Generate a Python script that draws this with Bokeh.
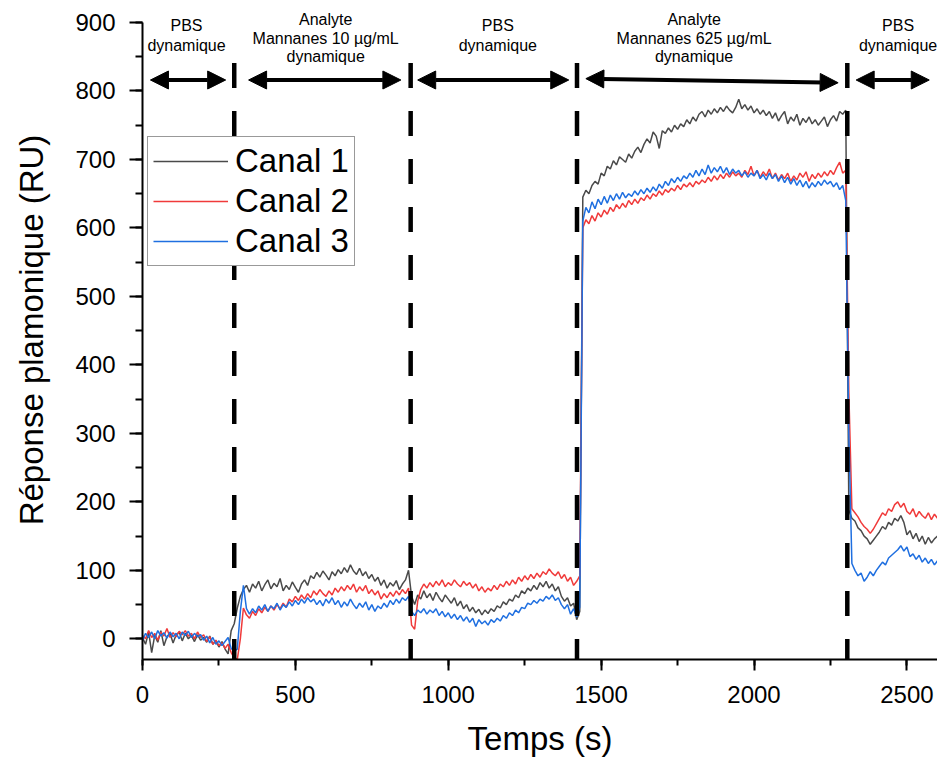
from bokeh.plotting import figure
from bokeh.models import (Label, Arrow, NormalHead, Legend, LegendItem,
                          SingleIntervalTicker, Range1d, ColumnDataSource)
from bokeh.embed import file_html
from bokeh.resources import INLINE

FONT = "Liberation Sans"

# sampling times (s)
t_s = [
    0, 10, 20, 30, 40, 50, 60, 70, 80, 90,
    100, 110, 120, 130, 140, 150, 160, 170, 180, 190,
    200, 210, 220, 230, 240, 250, 260, 270, 280, 290,
    300, 310, 320, 330, 340, 350, 360, 370, 380, 390,
    400, 410, 420, 430, 440, 450, 460, 470, 480, 490,
    500, 510, 520, 530, 540, 550, 560, 570, 580, 590,
    600, 610, 620, 630, 640, 650, 660, 670, 680, 690,
    700, 710, 720, 730, 740, 750, 760, 770, 780, 790,
    800, 810, 820, 830, 840, 850, 860, 870, 880, 890,
    900, 910, 920, 930, 940, 950, 960, 970, 980, 990,
    1000, 1010, 1020, 1030, 1040, 1050, 1060, 1070, 1080, 1090,
    1100, 1110, 1120, 1130, 1140, 1150, 1160, 1170, 1180, 1190,
    1200, 1210, 1220, 1230, 1240, 1250, 1260, 1270, 1280, 1290,
    1300, 1310, 1320, 1330, 1340, 1350, 1360, 1370, 1380, 1390,
    1400, 1410, 1420, 1430, 1440, 1450, 1460, 1470, 1480, 1490,
    1500, 1510, 1520, 1530, 1540, 1550, 1560, 1570, 1580, 1590,
    1600, 1610, 1620, 1630, 1640, 1650, 1660, 1670, 1680, 1690,
    1700, 1710, 1720, 1730, 1740, 1750, 1760, 1770, 1780, 1790,
    1800, 1810, 1820, 1830, 1840, 1850, 1860, 1870, 1880, 1890,
    1900, 1910, 1920, 1930, 1940, 1950, 1960, 1970, 1980, 1990,
    2000, 2010, 2020, 2030, 2040, 2050, 2060, 2070, 2080, 2090,
    2100, 2110, 2120, 2130, 2140, 2150, 2160, 2170, 2180, 2190,
    2200, 2210, 2220, 2230, 2240, 2250, 2260, 2270, 2280, 2290,
    2300, 2310, 2320, 2330, 2340, 2350, 2360, 2370, 2380, 2390,
    2400, 2410, 2420, 2430, 2440, 2450, 2460, 2470, 2480, 2490,
    2500, 2510, 2520, 2530, 2540, 2550, 2560, 2570, 2580, 2590,
    2600]

canal_1 = [
    2, -8, 10, -20, 5, -5, 12, -10, 3, 8,
    -6, 6, 10, -3, 8, 0, 5, -4, 6, -2,
    2, -5, 4, -8, -3, -12, -4, -15, -22, 12,
    22, 45, 62, 72, 78, 68, 80, 74, 84, 70,
    79, 86, 73, 81, 76, 88, 70, 78, 72, 83,
    75, 68, 80, 86, 78, 92, 88, 97, 90, 99,
    93, 86, 98, 92, 101, 95, 104, 97, 108, 99,
    94, 103, 92, 98, 88, 94, 84, 90, 78, 86,
    74, 82, 77, 85, 72, 80, 86, 100, 62, 50,
    64, 58, 70, 60, 66, 56, 68, 60, 54, 64,
    58, 52, 60, 48, 55, 44, 50, 40, 46, 38,
    43, 35, 42, 37, 44, 40, 48, 45, 54, 50,
    58, 55, 64, 60, 70, 66, 74, 70, 78, 72,
    82, 76, 84, 74, 80, 70, 76, 62, 55, 60,
    48, 52, 28, 40, 645, 655, 650, 662, 668, 664,
    680, 676, 690, 686, 698, 692, 704, 700, 696, 708,
    702, 712, 718, 710, 722, 730, 724, 740, 734, 716,
    742, 738, 746, 740, 750, 744, 752, 748, 758, 752,
    762, 756, 766, 770, 762, 772, 766, 774, 768, 776,
    770, 778, 772, 768, 776, 788, 774, 780, 772, 778,
    768, 774, 766, 772, 764, 770, 760, 768, 756, 764,
    770, 752, 762, 756, 766, 750, 760, 754, 762, 752,
    758, 750, 756, 762, 748, 758, 764, 756, 770, 766,
    772, 188, 176, 172, 162, 158, 150, 146, 138, 144,
    150, 156, 164, 160, 170, 166, 176, 172, 180, 170,
    152, 158, 146, 154, 142, 150, 138, 148, 140, 146,
    150]

canal_2 = [
    5, 0, 12, 2, 8, -2, 10, 4, 15, 2,
    9, 3, 11, 6, 12, 4, 8, 0, 10, 2,
    6, -4, 3, -8, -2, -10, -6, -14, -8, -20,
    -28, -30, 0, 45, 35, 30, 40, 34, 44, 38,
    46, 40, 48, 42, 50, 44, 52, 46, 58, 54,
    62, 56, 64, 58, 66, 60, 70, 64, 72, 66,
    62, 70, 64, 74, 68, 76, 70, 78, 72, 80,
    68, 76, 70, 78, 66, 72, 64, 70, 58, 66,
    60, 68, 62, 70, 64, 72, 66, 74, 20, 14,
    55, 72, 80, 74, 82, 76, 84, 78, 86, 76,
    82, 78, 86, 80, 76, 84, 78, 82, 74, 80,
    70, 76, 68, 74, 70, 78, 72, 80, 76, 84,
    78, 86, 80, 90, 84, 92, 86, 94, 88, 96,
    90, 98, 94, 102, 96, 92, 98, 88, 94, 84,
    90, 78, 84, 92, 600, 612, 606, 618, 610, 622,
    616, 626, 620, 630, 624, 634, 628, 636, 630, 640,
    634, 642, 636, 644, 640, 648, 642, 650, 646, 654,
    648, 656, 652, 658, 654, 662, 656, 664, 660, 666,
    660, 668, 664, 670, 666, 674, 668, 676, 670, 678,
    672, 680, 674, 682, 676, 680, 674, 684, 678, 690,
    676, 684, 674, 682, 676, 686, 672, 680, 670, 678,
    672, 680, 668, 676, 670, 680, 674, 682, 668, 678,
    672, 680, 674, 682, 676, 684, 678, 688, 696, 680,
    684, 360, 190, 184, 178, 170, 164, 160, 154, 160,
    168, 176, 184, 180, 190, 186, 196, 200, 192, 198,
    186, 182, 190, 178, 186, 180, 176, 184, 174, 182,
    176]

canal_3 = [
    -2, 8, 2, 10, 0, 12, 4, 9, 1, 10,
    3, 8, 0, 10, 5, 11, 2, 8, 3, 6,
    -2, 4, -6, 2, -8, -3, -10, -4, 2, -14,
    -18, -15, 40, 78, 44, 36, 44, 38, 48, 42,
    50, 40, 48, 44, 52, 42, 50, 46, 54, 48,
    56, 50, 58, 52, 60, 54, 58, 50, 56, 48,
    58, 52, 60, 50, 56, 46, 54, 48, 58, 50,
    44, 52, 46, 54, 42, 50, 40, 48, 44, 52,
    46, 56, 50, 58, 52, 60, 56, 62, 40, 34,
    42, 38, 44, 36, 42, 38, 44, 34, 40, 32,
    38, 30, 36, 28, 34, 26, 32, 24, 30, 18,
    28, 22, 26, 20, 28, 24, 30, 26, 34, 30,
    38, 34, 42, 38, 46, 44, 52, 50, 56, 52,
    58, 55, 62, 58, 64, 56, 60, 50, 44, 50,
    36, 44, 32, 46, 610, 630, 622, 638, 628, 642,
    634, 646, 636, 648, 640, 650, 642, 652, 644, 650,
    646, 654, 648, 656, 650, 658, 652, 660, 654, 664,
    658, 668, 662, 672, 666, 674, 668, 676, 672, 680,
    674, 684, 676, 686, 678, 692, 680, 688, 682, 690,
    680, 688, 678, 686, 680, 684, 676, 682, 674, 680,
    676, 684, 672, 678, 670, 680, 672, 678, 668, 676,
    666, 674, 664, 672, 662, 670, 660, 668, 658, 666,
    660, 668, 662, 670, 664, 668, 660, 666, 656, 662,
    640, 300, 110, 100, 92, 96, 84, 90, 98, 92,
    100, 106, 112, 108, 118, 122, 126, 130, 136, 128,
    134, 120, 124, 116, 122, 112, 118, 110, 116, 108,
    114]

series_names = ["Canal 1", "Canal 2", "Canal 3"]
series_colors = ["#4a4a4a", "#f03a3a", "#1f6fe0"]

# axis extents
x_lo, x_hi = 0, 2600
y_lo, y_hi = -30.2, 900
y_pad_top = 932.1  # room above the axis for the phase captions

# phase boundaries (s) and annotations
boundary_t = [300, 877, 1421, 2305]
boundary_top = 841
arrow_x0 = [26, 347, 900, 1450, 2334]
arrow_x1 = [272, 845, 1394, 2275, 2573]
arrow_y0 = [816, 816, 816, 818, 816]
arrow_y1 = [816, 816, 816, 812, 816]
phase_x = [144, 599, 1162, 1804, 2471]
phase_text = [
    ["PBS", "dynamique"],
    ["Analyte", "Mannanes 10 \u00b5g/mL", "dynamique"],
    ["PBS", "dynamique"],
    ["Analyte", "Mannanes 625 \u00b5g/mL", "dynamique"],
    ["PBS", "dynamique"],
]
line_y_2 = [895, 866]
line_y_3 = [905, 877, 851]

p = figure(width=937, height=760, output_backend="svg", toolbar_location=None,
           x_range=Range1d(x_lo, x_hi), y_range=Range1d(y_lo, y_pad_top),
           min_border_left=142, min_border_right=0, min_border_top=0,
           min_border_bottom=101)
p.outline_line_color = None
p.grid.visible = False

src = ColumnDataSource(dict(t=t_s, c1=canal_1, c2=canal_2, c3=canal_3))
renderers = []
for col, color in zip(["c1", "c2", "c3"], series_colors):
    r = p.line("t", col, source=src, line_color=color, line_width=1.5)
    renderers.append(r)

# dashed boundaries
p.segment(x0=boundary_t, x1=boundary_t, y0=[boundary_top] * 4, y1=[y_lo] * 4,
          line_color="black", line_width=4.5, line_dash="25 23")

for xs, xe, ys, ye in zip(arrow_x0, arrow_x1, arrow_y0, arrow_y1):
    p.add_layout(Arrow(
        start=NormalHead(size=18, fill_color="black", line_color="black"),
        end=NormalHead(size=18, fill_color="black", line_color="black"),
        x_start=xs, x_end=xe, y_start=ys, y_end=ye,
        line_width=4, line_color="black"))

for xc, lines in zip(phase_x, phase_text):
    ys = line_y_2 if len(lines) == 2 else line_y_3
    for txt, yy in zip(lines, ys):
        p.add_layout(Label(x=xc, y=yy, text=txt, text_align="center",
                           text_baseline="middle", text_font=FONT,
                           text_font_size="16px", text_color="black"))

legend = Legend(items=[LegendItem(label=n, renderers=[r])
                       for n, r in zip(series_names, renderers)],
                location=(5, 393))
legend.label_text_font = FONT
legend.label_text_font_size = "33px"
legend.label_text_color = "black"
legend.glyph_width = 75
legend.glyph_height = 36
legend.label_height = 36
legend.label_standoff = 7
legend.spacing = 2
legend.padding = 5
legend.margin = 0
legend.border_line_color = "#333333"
legend.border_line_width = 1
legend.background_fill_alpha = 1
p.add_layout(legend)

p.xaxis.ticker = SingleIntervalTicker(interval=500, num_minor_ticks=2)
p.yaxis.ticker = SingleIntervalTicker(interval=100, num_minor_ticks=2)
p.yaxis.bounds = (y_lo, y_hi)
for ax in (p.xaxis, p.yaxis):
    ax.axis_line_width = 2
    ax.axis_line_color = "black"
    ax.major_tick_line_width = 2
    ax.minor_tick_line_width = 2
    ax.major_tick_in = 0
    ax.minor_tick_in = 0
    ax.major_label_text_font = FONT
    ax.major_label_text_font_size = "24px"
    ax.major_label_text_color = "black"
    ax.axis_label_text_font = FONT
    ax.axis_label_text_font_size = "33px"
    ax.axis_label_text_font_style = "normal"
    ax.axis_label_text_color = "black"
p.xaxis.major_tick_out = 11
p.xaxis.minor_tick_out = 6
p.yaxis.major_tick_out = 13
p.yaxis.minor_tick_out = 7
p.xaxis.major_label_standoff = 15
p.yaxis.major_label_standoff = 14
p.xaxis.axis_label = "Temps (s)"
p.yaxis.axis_label = "R\u00e9ponse plamonique (RU)"
p.xaxis.axis_label_standoff = 14
p.yaxis.axis_label_standoff = 22

open("out.html", "w").write(file_html(p, INLINE))
